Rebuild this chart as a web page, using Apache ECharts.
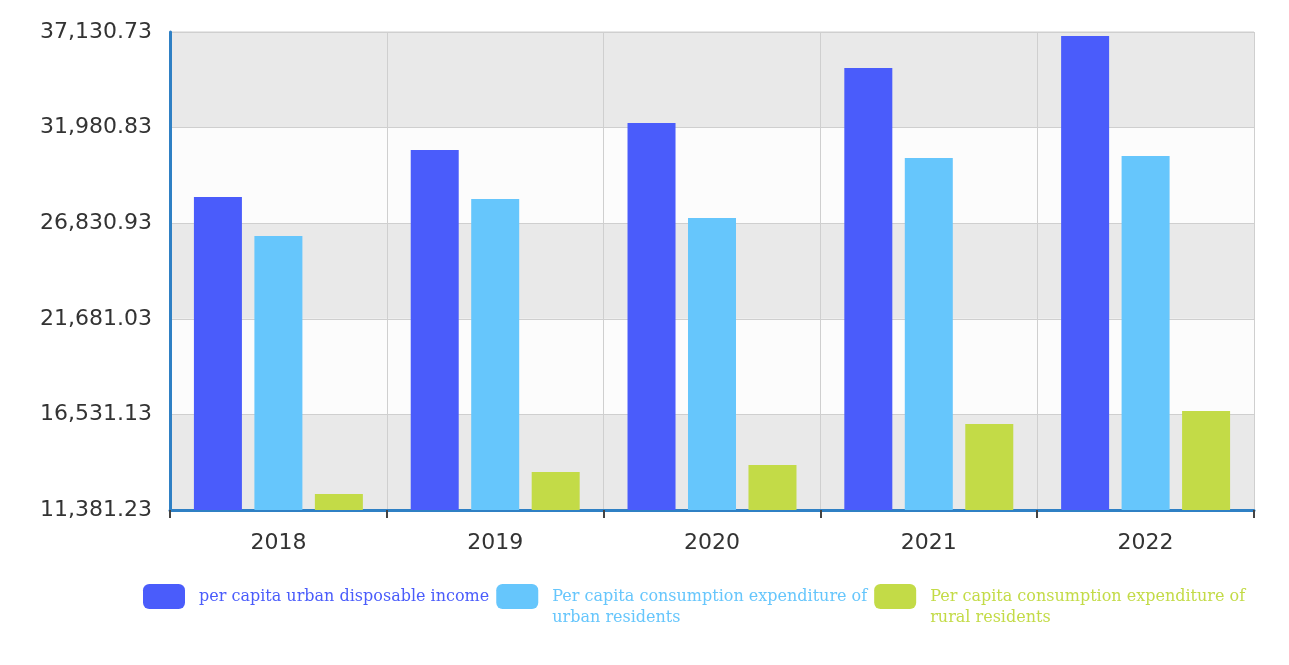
<!DOCTYPE html>
<html>
<head>
<meta charset="utf-8">
<script src="https://cdn.jsdelivr.net/npm/echarts@6/dist/echarts.min.js"></script>
<style>
  html, body { margin: 0; padding: 0; background: #fff; }
  #chart { width: 1289px; height: 665px; }
</style>
</head>
<body>
<div id="chart"></div>
<script>
  const years = ['2018', '2019', '2020', '2021', '2022'];
  const seriesNames = [
    'per capita urban disposable income',
    'Per capita consumption expenditure of urban residents',
    'Per capita consumption expenditure of rural residents',
  ];
  const urbanIncome = [28240, 30770, 32230, 35190, 36910];
  const urbanSpending = [26140, 28130, 27110, 30340, 30450];
  const ruralSpending = [12240, 13430, 13800, 16010, 16710];
  const yMin = 11381.23;
  const yMax = 37130.73;
  const yStep = 5149.9;

  const colors = ['#4a5cfb', '#66c6fc', '#c3db47'];

  const chart = echarts.init(document.getElementById('chart'));

  const bar = (name, data, color) => ({
    name,
    type: 'bar',
    data,
    barWidth: 48,
    barGap: '26%',
    itemStyle: { color },
  });

  chart.setOption({
    animation: false,
    backgroundColor: '#fff',
    grid: {
      left: 170,
      right: 35,
      top: 32,
      bottom: 155,
      show: true,
      borderColor: '#cfcfcf',
      borderWidth: 1,
    },
    legend: {
      left: 143,
      top: 565,
      padding: 0,
      itemWidth: 42,
      itemHeight: 25,
      itemGap: 7,
      icon: 'roundRect',
      textStyle: {
        fontFamily: 'DejaVu Serif',
        fontSize: 16,
        lineHeight: 21,
        padding: [0, 0, 0, 9],
      },
      // long names wrap after "of"; a leading blank line keeps line one level with the icon
      formatter: (name) => (name.indexOf(' of ') > 0 ? '\n' + name.replace(' of ', ' of\n') : name),
      data: seriesNames.map((name, i) => ({
        name,
        textStyle: { color: colors[i] },
      })),
    },
    xAxis: {
      type: 'category',
      data: years,
      axisLine: { lineStyle: { color: '#2f80c4', width: 3 } },
      axisTick: { show: true, length: 8, lineStyle: { color: '#444', width: 2 } },
      axisLabel: {
        color: '#333',
        fontSize: 22,
        fontFamily: 'DejaVu Sans',
        margin: 22,
      },
      splitLine: { show: true, lineStyle: { color: '#cfcfcf' } },
    },
    yAxis: {
      type: 'value',
      min: yMin,
      max: yMax,
      interval: yStep,
      axisLine: { show: true, lineStyle: { color: '#2f80c4', width: 3 } },
      axisTick: { show: false },
      axisLabel: {
        color: '#333',
        fontSize: 22,
        fontFamily: 'DejaVu Sans',
        margin: 18,
        formatter: (v) => v.toLocaleString('en-US', { minimumFractionDigits: 2, maximumFractionDigits: 2 }),
      },
      splitLine: { show: true, lineStyle: { color: '#cfcfcf' } },
      splitArea: { show: true, areaStyle: { color: ['#e9e9e9', '#fcfcfc'] } },
    },
    series: [
      bar(seriesNames[0], urbanIncome, colors[0]),
      bar(seriesNames[1], urbanSpending, colors[1]),
      bar(seriesNames[2], ruralSpending, colors[2]),
    ],
  });
</script>
</body>
</html>
